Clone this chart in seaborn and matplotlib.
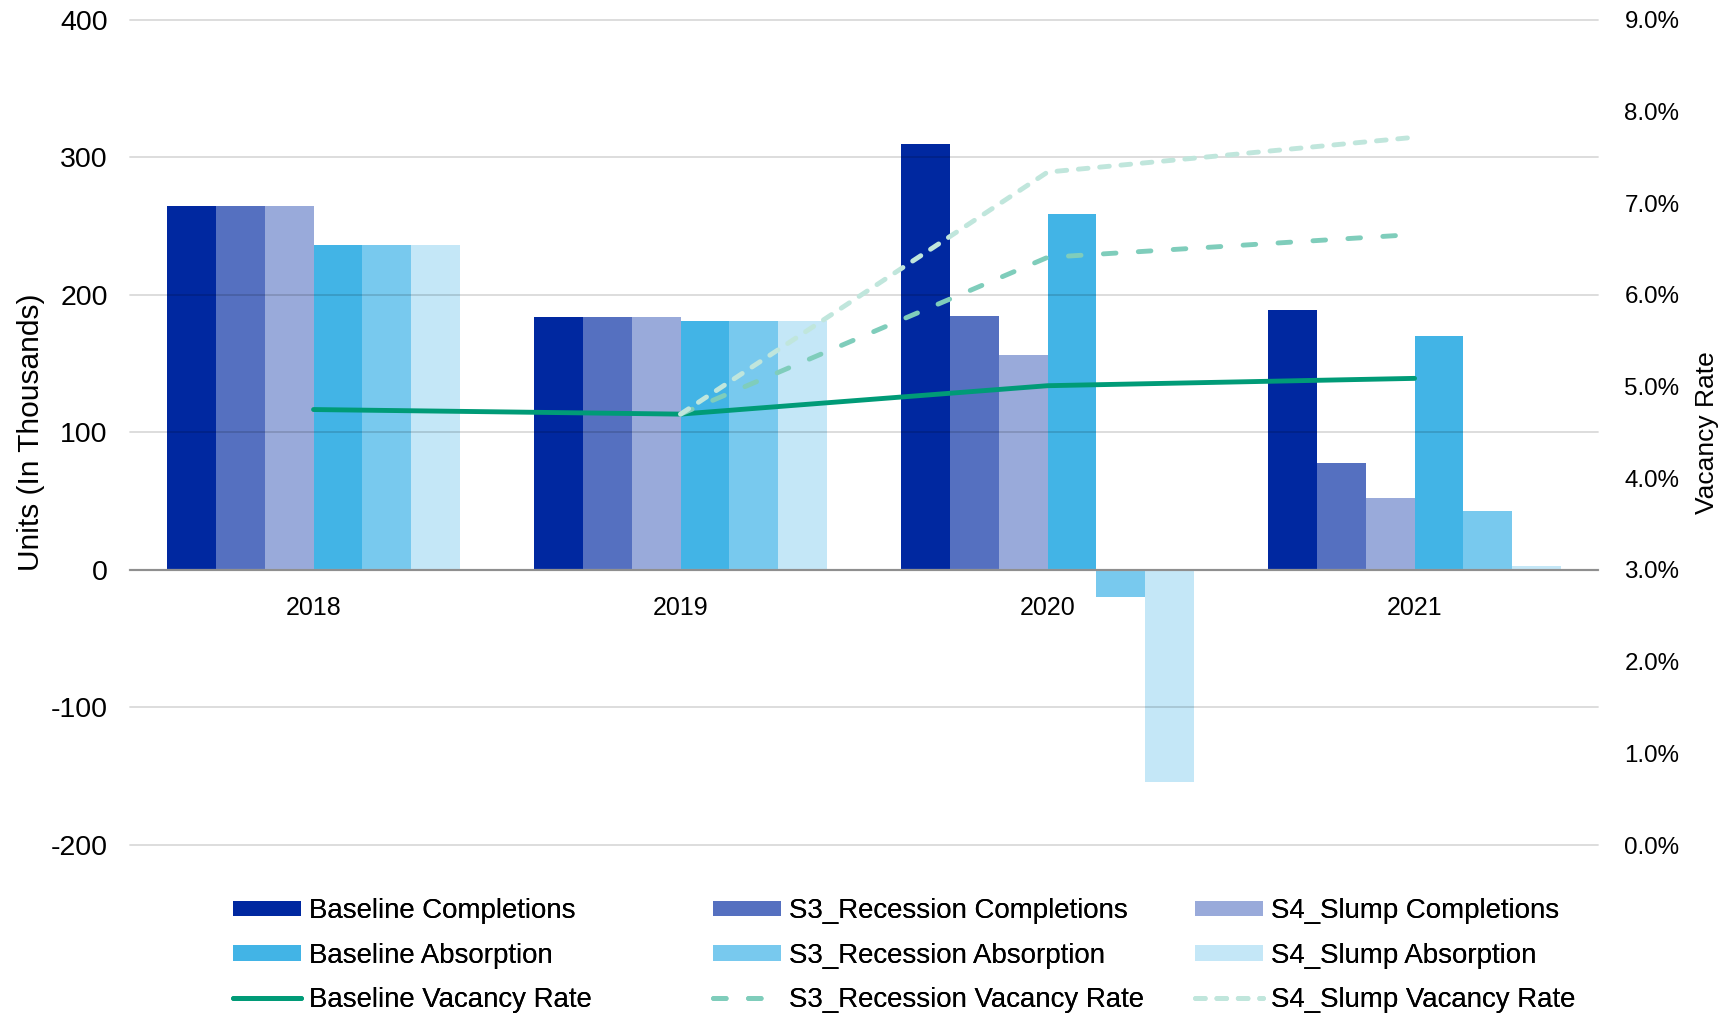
import numpy as np
import pandas as pd
import matplotlib
matplotlib.use("Agg")
import matplotlib.pyplot as plt
from matplotlib.patches import Patch
from matplotlib.lines import Line2D
from matplotlib.ticker import MultipleLocator, FuncFormatter
import seaborn as sns

# ---- data -------------------------------------------------------------
years = ["2018", "2019", "2020", "2021"]

baseline_completions = [265, 184, 310, 189]
s3_completions = [265, 184, 185, 78]
s4_completions = [265, 184, 156, 52]
baseline_absorption = [236, 181, 259, 170]
s3_absorption = [236, 181, -20, 43]
s4_absorption = [236, 181, -154, 3]

baseline_vacancy = [4.75, 4.70, 5.01, 5.09]
s3_vacancy = [np.nan, 4.70, 6.41, 6.66]
s4_vacancy = [np.nan, 4.70, 7.34, 7.72]

bar_series = [
    "Baseline Completions", "S3_Recession Completions", "S4_Slump Completions",
    "Baseline Absorption", "S3_Recession Absorption", "S4_Slump Absorption",
]
bar_values = [
    baseline_completions, s3_completions, s4_completions,
    baseline_absorption, s3_absorption, s4_absorption,
]
bar_colors = ["#0028A0", "#5570C0", "#99AADA", "#42B4E6", "#78C9EE", "#C4E7F7"]

line_series = ["Baseline Vacancy Rate", "S3_Recession Vacancy Rate", "S4_Slump Vacancy Rate"]
line_values = [baseline_vacancy, s3_vacancy, s4_vacancy]
line_colors = ["#009B77", "#7FCDBB", "#C0E6DC"]
line_styles = ["-", (0, (2.6, 4.6)), (0, (2.0, 2.4))]

# ---- style ------------------------------------------------------------
sns.set_theme(style="white")
plt.rcParams["font.family"] = ["Liberation Sans", "DejaVu Sans"]
plt.rcParams["text.color"] = "#000000"
plt.rcParams["axes.unicode_minus"] = False

bars = pd.DataFrame(
    [(y, name, v) for name, vals in zip(bar_series, bar_values) for y, v in zip(years, vals)],
    columns=["Year", "Series", "Units"],
)

fig = plt.figure(figsize=(17.34, 10.16), dpi=100)
ax = fig.add_axes([0.075, 0.1683, 0.8466, 0.8121])

sns.barplot(
    data=bars, x="Year", y="Units", hue="Series", hue_order=bar_series,
    order=years, palette=bar_colors, saturation=1, errorbar=None,
    width=0.8, gap=0, legend=False, ax=ax, edgecolor="none", linewidth=0, zorder=1,
)

ax.set_ylim(-200, 400)
ax.yaxis.set_major_locator(MultipleLocator(100))
ax.set_axisbelow(False)
ax.grid(axis="y", color="black", alpha=0.15, linewidth=1.3)
ax.grid(axis="x", visible=False)
for gl in ax.get_ygridlines():
    gl.set_clip_on(False)
for side in ["left", "right", "top"]:
    ax.spines[side].set_visible(False)
ax.spines["bottom"].set_position(("data", 0))
ax.spines["bottom"].set_color("#A6A6A6")
ax.spines["bottom"].set_linewidth(1.6)
ax.spines["bottom"].set_zorder(2.5)
ax.tick_params(axis="both", length=0)
ax.tick_params(axis="y", pad=16, labelsize=20.5, labelcolor="#000000")
ax.tick_params(axis="x", pad=19, labelsize=18, labelcolor="#000000")
ax.set_xlabel("")
ax.set_ylabel("Units (In Thousands)", fontsize=21.5, color="#000000")
ax.yaxis.set_label_coords(-0.058, 0.5)

# ---- vacancy rate lines on the secondary axis -------------------------
ax2 = ax.twinx()
positions = np.arange(len(years))
for name, vals, col, ls in zip(line_series, line_values, line_colors, line_styles):
    sns.lineplot(
        x=positions, y=vals, ax=ax2, color=col, linewidth=3.5, linestyle=ls,
        dash_capstyle="round", solid_capstyle="round", legend=False,
    )
ax2.set_ylim(0, 9)
ax2.set_xlim(-0.5, len(years) - 0.5)
ax.set_xlim(-0.5, len(years) - 0.5)
ax2.yaxis.set_major_locator(MultipleLocator(1))
ax2.yaxis.set_major_formatter(FuncFormatter(lambda v, _: f"{v:.1f}%"))
ax2.grid(False)
for side in ["left", "right", "top", "bottom"]:
    ax2.spines[side].set_visible(False)
ax2.tick_params(axis="y", length=0, pad=19, labelsize=17.4, labelcolor="#000000")
ax2.set_ylabel("Vacancy Rate", fontsize=19, rotation=90, color="#000000")
ax2.yaxis.set_label_coords(1.066, 0.5)

# ---- legend: three equal-width columns --------------------------------
col_left = [233 / 1734, 713 / 1734, 1195 / 1734]
for c in range(3):
    handles = [
        Patch(facecolor=bar_colors[c], edgecolor="none"),
        Patch(facecolor=bar_colors[c + 3], edgecolor="none"),
        Line2D([], [], color=line_colors[c], linewidth=3.5, linestyle=line_styles[c],
               dash_capstyle="round", solid_capstyle="round"),
    ]
    labels = [bar_series[c], bar_series[c + 3], line_series[c]]
    leg = fig.legend(
        handles, labels, loc="upper left", bbox_to_anchor=(col_left[c], 0.1158),
        frameon=False, fontsize=19.9, handlelength=2.45, handleheight=0.5,
        handletextpad=0.3, labelspacing=0.66, borderpad=0, borderaxespad=0,
    )
    fig.add_artist(leg)

fig.savefig("out.png", dpi=100)
